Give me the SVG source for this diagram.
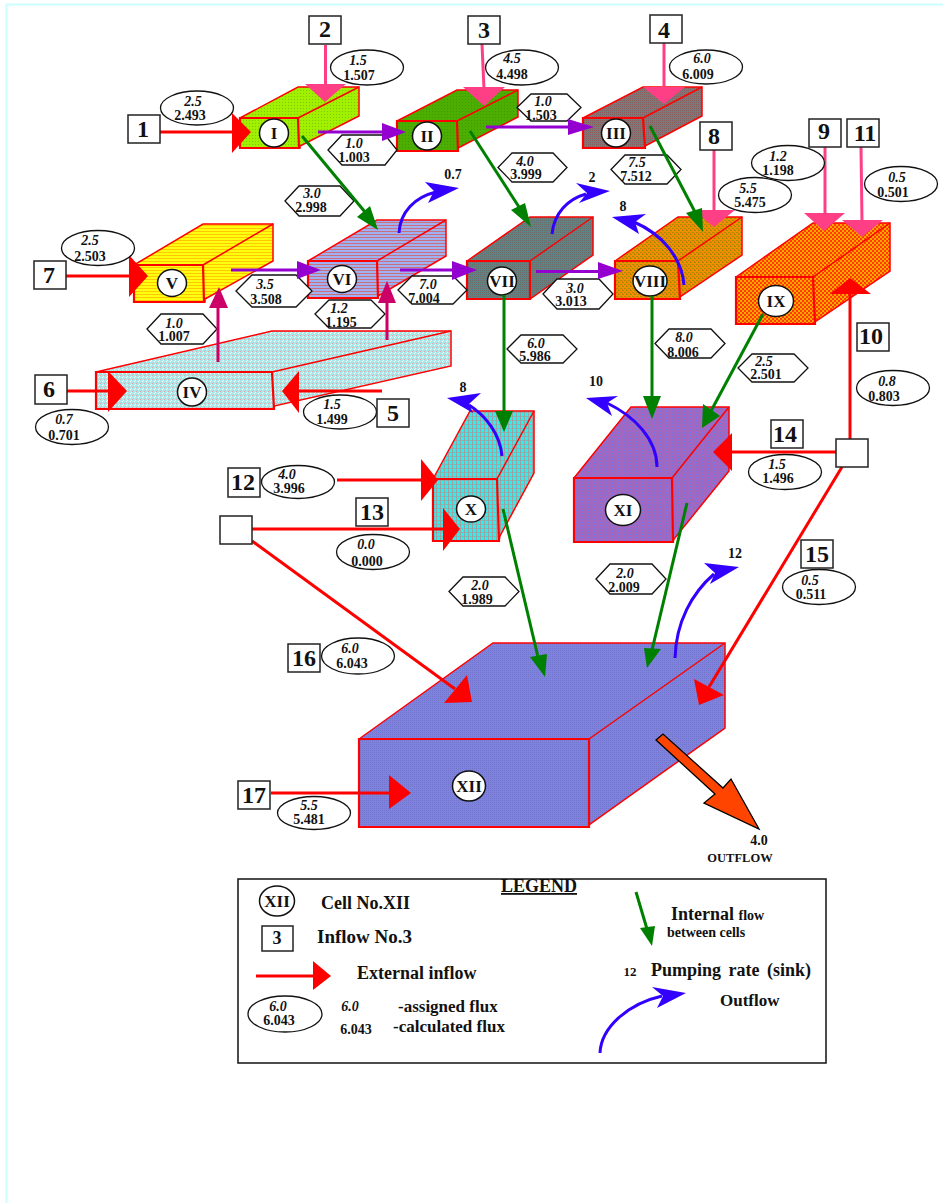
<svg xmlns="http://www.w3.org/2000/svg" width="943" height="1203" viewBox="0 0 943 1203">
<style>
text{font-family:"Liberation Serif","Times New Roman",serif;font-weight:bold;fill:#111;text-anchor:middle}
.it{font-style:italic;font-size:14px}
.v{font-size:14px}
.sq text{font-size:24px}
.sq rect{fill:#fff;stroke:#222;stroke-width:1.5}
.c{fill:#fff;stroke:#111;stroke-width:1.5}
.cl{font-size:17px}
.b{stroke:#f00;stroke-width:1.5;stroke-linejoin:miter}
.f{stroke:#f00;stroke-width:2.2}
.lab ellipse,.lab polygon{fill:#fff;stroke:#111;stroke-width:1.3}
.ln{fill:none;stroke-width:3}
.red .ln,.red line{stroke:#f00;fill:none;stroke-width:3}
.red polygon{fill:#f00}
.pink line{stroke:#ff3f85;stroke-width:3}
.pink polygon{fill:#ff3f85}
.pur line{stroke:#9400d0;stroke-width:3}
.pur polygon{fill:#9400d0}
.grn line{stroke:#008000;stroke-width:3}
.grn polygon{fill:#008000}
.mag line{stroke:#cc0066;stroke-width:3}
.mag polygon{fill:#cc0066}
.blu path{stroke:#3300ff;stroke-width:3;fill:none}
.blu polygon{fill:#3300ff}
.lg{text-anchor:start}
</style>
<defs>
<pattern id="pI" width="3" height="3" patternUnits="userSpaceOnUse"><rect width="3" height="3" fill="#a0f000"/><rect width="1" height="1" fill="#80c800"/></pattern>
<pattern id="pII" width="3" height="3" patternUnits="userSpaceOnUse"><rect width="3" height="3" fill="#4cae00"/><rect width="1" height="1" fill="#3f9a00"/></pattern>
<pattern id="pIII" width="2" height="2" patternUnits="userSpaceOnUse"><rect width="2" height="2" fill="#7a7a7a"/><rect width="1" height="1" fill="#8c5c5c"/></pattern>
<pattern id="pV" width="3" height="3" patternUnits="userSpaceOnUse"><rect width="3" height="3" fill="#ffff10"/><rect width="3" height="1" fill="#ffc800"/></pattern>
<pattern id="pVI" width="3" height="3" patternUnits="userSpaceOnUse"><rect width="3" height="3" fill="#a0b0f0"/><rect width="3" height="1" fill="#c87080"/></pattern>
<pattern id="pVII" width="2" height="2" patternUnits="userSpaceOnUse"><rect width="2" height="2" fill="#5c8484"/><rect width="1" height="1" fill="#6f6c6c"/></pattern>
<pattern id="pVIII" width="4" height="4" patternUnits="userSpaceOnUse"><rect width="4" height="4" fill="#f09000"/><rect width="2" height="1" fill="#a09000"/><rect x="2" y="2" width="2" height="1" fill="#a09000"/><rect x="2" y="1" width="1" height="1" fill="#d87010"/></pattern>
<pattern id="pIX" width="4" height="4" patternUnits="userSpaceOnUse"><rect width="4" height="4" fill="#ff3a00"/><rect width="2" height="2" fill="#ffa800"/><rect x="2" y="2" width="2" height="2" fill="#ffa800"/></pattern>
<pattern id="pIV" width="4" height="4" patternUnits="userSpaceOnUse"><rect width="4" height="4" fill="#a8e8e8"/><rect x="0" y="3" width="1" height="1" fill="#e8a0a8"/><rect x="1" y="2" width="1" height="1" fill="#e8b8c0"/><rect x="2" y="1" width="1" height="1" fill="#ffffff"/><rect x="3" y="0" width="1" height="1" fill="#f0ffff"/></pattern>
<pattern id="pX" width="4" height="4" patternUnits="userSpaceOnUse"><rect width="4" height="4" fill="#30eeee"/><rect width="4" height="1" fill="#88b4b4"/><rect width="1" height="4" fill="#98a4a4"/></pattern>
<pattern id="pXI" width="3" height="3" patternUnits="userSpaceOnUse"><rect width="3" height="3" fill="#a068c0"/><rect width="1" height="1" fill="#6878e8"/></pattern>
<pattern id="pXII" width="2" height="2" patternUnits="userSpaceOnUse"><rect width="2" height="2" fill="#7c84e0"/><rect width="1" height="1" fill="#7474cc"/></pattern>
</defs>
<rect width="943" height="1203" fill="#fff"/>
<path d="M6.5 1203V4.5H943" fill="none" stroke="#ccffff" stroke-width="2"/>

<g id="cell-I"><polygon class="b" fill="url(#pI)" points="240,118 298,87 359,87 359,116 300,146 300,148 240,148"/><polyline class="b" fill="none" points="298,118 359,87"/><polygon class="f" fill="none" points="240,118 298,118 299,148 240,148"/><ellipse class="c" cx="274" cy="133" rx="14.5" ry="14"/><text class="cl" x="274" y="138.500">I</text></g>
<g id="cell-II"><polygon class="b" fill="url(#pII)" points="397,121 457,90 518,90 518,117 458,148 458,151 397,151"/><polyline class="b" fill="none" points="457,121 518,90"/><polygon class="f" fill="none" points="397,121 457,121 458,151 397,151"/><ellipse class="c" cx="427" cy="136" rx="14.500" ry="14"/><text class="cl" x="427" y="141.500">II</text></g>
<g id="cell-III"><polygon class="b" fill="url(#pIII)" points="583,118 643,87 702,87 702,116 645,146 645,148 583,148"/><polyline class="b" fill="none" points="643,118 702,87"/><polygon class="f" fill="none" points="583,118 643,118 645,148 583,148"/><ellipse class="c" cx="616" cy="133" rx="14.500" ry="14"/><text class="cl" x="616" y="138.500">III</text></g>
<g id="cell-IV"><polygon class="b" fill="url(#pIV)" points="96,372 272,331 451,331 451,366 274,406 274,409 96,409"/><polyline class="b" fill="none" points="272,372 451,331"/><polygon class="f" fill="none" points="96,372 272,372 274,409 96,409"/><ellipse class="c" cx="192" cy="392" rx="14.500" ry="14"/><text class="cl" x="192" y="397.500">IV</text></g>
<g id="cell-V"><polygon class="b" fill="url(#pV)" points="134,265 203,224 273,224 273,261 205,299 205,302 134,302"/><polyline class="b" fill="none" points="203,265 273,224"/><polygon class="f" fill="none" points="134,265 203,265 204,302 134,302"/><ellipse class="c" cx="172" cy="283" rx="14.500" ry="13.500"/><text class="cl" x="172" y="288.500">V</text></g>
<g id="cell-VI"><polygon class="b" fill="url(#pVI)" points="308,261 377,220 446,220 446,256 378,296 378,298 308,298"/><polyline class="b" fill="none" points="377,261 446,220"/><polygon class="f" fill="none" points="308,261 377,261 378,298 308,298"/><ellipse class="c" cx="342" cy="279" rx="14.500" ry="13.500"/><text class="cl" x="342" y="284.500">VI</text></g>
<g id="cell-VII"><polygon class="b" fill="url(#pVII)" points="467,261 530,217 593,217 593,255 530,299 467,299"/><polyline class="b" fill="none" points="530,261 593,217"/><polygon class="f" fill="none" points="467,261 530,261 530,299 467,299"/><ellipse class="c" cx="502" cy="281" rx="14.500" ry="14"/><text class="cl" x="502" y="286.500">VII</text></g>
<g id="cell-VIII"><polygon class="b" fill="url(#pVIII)" points="615,261 678,217 742,217 742,255 680,297 680,299 615,299"/><polyline class="b" fill="none" points="678,261 742,217"/><polygon class="f" fill="none" points="615,261 678,261 680,299 615,299"/><ellipse class="c" cx="650" cy="281" rx="17" ry="15"/><text class="cl" x="650" y="286.500">VIII</text></g>
<g id="cell-IX"><polygon class="b" fill="url(#pIX)" points="736,277 813,223 890,223 890,271 815,322 815,324 736,324"/><polyline class="b" fill="none" points="813,277 890,223"/><polygon class="f" fill="none" points="736,277 813,277 815,324 736,324"/><ellipse class="c" cx="776" cy="301" rx="17.500" ry="15.500"/><text class="cl" x="776" y="306.500">IX</text></g>
<g id="cell-X"><polygon class="b" fill="url(#pX)" points="433,479 470,411 534,411 534,473 500,536 499,541 433,541"/><polyline class="b" fill="none" points="497,479 534,411"/><polygon class="f" fill="none" points="433,479 497,479 499,541 433,541"/><ellipse class="c" cx="471" cy="509" rx="14.500" ry="13"/><text class="cl" x="471" y="514.500">X</text></g>
<g id="cell-XI"><polygon class="b" fill="url(#pXI)" points="574,478 631,407 729,407 729,471 674,539 673,542 574,542"/><polyline class="b" fill="none" points="672,478 729,407"/><polygon class="f" fill="none" points="574,478 672,478 673,542 574,542"/><ellipse class="c" cx="623" cy="510" rx="17.500" ry="15.500"/><text class="cl" x="623" y="515.500">XI</text></g>
<g id="cell-XII"><polygon class="b" fill="url(#pXII)" points="359,739 493,643 725,643 725,728 589,825 589,827 359,827"/><polyline class="b" fill="none" points="589,739 725,643"/><polygon class="f" fill="none" points="359,739 589,739 589,827 359,827"/><ellipse class="c" cx="469" cy="786" rx="16.500" ry="15"/><text class="cl" x="469" y="791.500">XII</text></g>

<g id="flux-hexagons" class="lab">
<g><polygon points="328,150 342,135 385,135 397,150 385,165 342,165"/><text class="it" x="354" y="148">1.0</text><text class="v" x="354" y="162">1.003</text></g>
<g><polygon points="285,201 299,186 340,186 354,201 340,216 299,216"/><text class="it" x="312" y="198">3.0</text><text class="v" x="311" y="212">2.998</text></g>
<g><polygon points="517,107.500 531,94 567,94 581,107.500 567,121 531,121"/><text class="it" x="543" y="106">1.0</text><text class="v" x="541" y="120">1.503</text></g>
<g><polygon points="498,167.500 512,153 553,153 567,167.500 553,182 512,182"/><text class="it" x="525" y="166">4.0</text><text class="v" x="526" y="179">3.999</text></g>
<g><polygon points="611,169.500 625,155 667,155 681,169.500 667,184 625,184"/><text class="it" x="637" y="167">7.5</text><text class="v" x="636" y="181">7.512</text></g>
<g><polygon points="543,294 557,279 599,279 613,294 599,309 557,309"/><text class="it" x="575" y="293">3.0</text><text class="v" x="571" y="306">3.013</text></g>
<g><polygon points="236,291 252,275 296,275 312,291 296,307 252,307"/><text class="it" x="265" y="289">3.5</text><text class="v" x="266" y="304">3.508</text></g>
<g><polygon points="398,290 412,276 453,276 467,290 453,304 412,304"/><text class="it" x="428" y="289">7.0</text><text class="v" x="424" y="303">7.004</text></g>
<g><polygon points="315,314 329,300 371,300 385,314 371,328 329,328"/><text class="it" x="339" y="313">1.2</text><text class="v" x="341" y="327">1.195</text></g>
<g><polygon points="147,329 161,314 203,314 217,329 203,344 161,344"/><text class="it" x="174" y="328">1.0</text><text class="v" x="174" y="341">1.007</text></g>
<g><polygon points="507,349 521,335 563,335 577,349 563,363 521,363"/><text class="it" x="536" y="348">6.0</text><text class="v" x="535" y="361">5.986</text></g>
<g><polygon points="655,343.500 669,329 711,329 725,343.500 711,358 669,358"/><text class="it" x="684" y="342">8.0</text><text class="v" x="683" y="357">8.006</text></g>
<g><polygon points="738,368 752,354 794,354 808,368 794,382 752,382"/><text class="it" x="764" y="366">2.5</text><text class="v" x="766" y="379">2.501</text></g>
<g><polygon points="449,591.500 463,577 505,577 519,591.500 505,606 463,606"/><text class="it" x="480" y="590">2.0</text><text class="v" x="477" y="604">1.989</text></g>
<g><polygon points="596,579 610,564 652,564 666,579 652,594 610,594"/><text class="it" x="625" y="578">2.0</text><text class="v" x="624" y="592">2.009</text></g>
</g>

<g id="connectors">
<g class="red">
<line x1="158" y1="132" x2="234" y2="132"/><polygon points="232,113 251,132 232,153"/>
<line x1="850" y1="439" x2="850" y2="294"/><polygon points="830,294 850,278 871,294"/>
<line x1="66" y1="276" x2="131" y2="276"/><polygon points="129,255 148,276 129,297"/>
<line x1="67" y1="391" x2="110" y2="391"/><polygon points="108,371 127,391 108,412"/>
<line x1="382" y1="391" x2="298" y2="391"/><polygon points="299,371 282,391 299,413"/>
<line x1="337" y1="480" x2="423" y2="480"/><polygon points="421,459 438,480 421,501"/>
<line x1="252" y1="529" x2="445" y2="529"/><polygon points="443,508 460,529 443,551"/>
<line x1="836" y1="452" x2="730" y2="452"/><polygon points="732,433 713,452 732,471"/>
<line x1="842" y1="467" x2="709" y2="687"/><polygon points="694,679 724,695 699,705"/>
<line x1="252" y1="541" x2="455" y2="689"/><polygon points="467,675 472,702 444,703"/>
<line x1="271" y1="793" x2="392" y2="793"/><polygon points="389,775 411,793 389,809"/>
</g>
<g class="pink">
<line x1="325.500" y1="45" x2="325.500" y2="86"/><polygon points="305,84 346,84 325,102"/>
<line x1="482" y1="44" x2="484" y2="89"/><polygon points="463,87 505,87 484,106"/>
<line x1="664" y1="43" x2="664" y2="89"/><polygon points="643,87 685,87 664,104"/>
<line x1="714" y1="150" x2="714" y2="212"/><polygon points="693,210 735,210 714,227"/>
<line x1="825" y1="147" x2="825" y2="215"/><polygon points="804,213 845,213 824,231"/>
<line x1="861" y1="147" x2="862" y2="222"/><polygon points="842,220 883,220 862,237"/>
</g>
<g class="pur">
<line x1="318" y1="132" x2="384" y2="132"/><polygon points="382,123 406,132 382,141"/>
<line x1="486" y1="127" x2="570" y2="127"/><polygon points="568,119 594,127 568,135"/>
<line x1="231" y1="270" x2="299" y2="270"/><polygon points="297,261 321,270 297,279"/>
<line x1="400" y1="270" x2="454" y2="270"/><polygon points="452,261 477,270 452,280"/>
<line x1="536" y1="271.500" x2="600" y2="271.500"/><polygon points="598,262 623,271 598,279"/>
</g>
<g class="grn">
<line x1="302" y1="136" x2="365" y2="212"/><polygon points="370,206 378,230 357,217"/>
<line x1="470" y1="131" x2="519" y2="207"/><polygon points="525,203 531,227 511,210"/>
<line x1="650" y1="126" x2="695" y2="212"/><polygon points="702,208 703,232 686,213"/>
<line x1="504" y1="295" x2="504" y2="413"/><polygon points="495,411 513,411 504,432"/>
<line x1="652" y1="296" x2="652" y2="398"/><polygon points="643,396 661,396 652,419"/>
<line x1="763" y1="314" x2="711" y2="411"/><polygon points="703,404 720,416 702,428"/>
<line x1="503" y1="509" x2="538" y2="657"/><polygon points="530,657 547,654 545,677"/>
<line x1="687" y1="503" x2="652" y2="650"/><polygon points="644,648 661,649 647,668"/>
</g>
<g class="mag">
<line x1="218" y1="362" x2="218" y2="306"/><polygon points="209,308 228,308 219,287"/>
<line x1="387" y1="340" x2="387" y2="301"/><polygon points="378,303 396,303 387,281"/>
</g>
<g class="blu">
<path d="M399 233C400 212 415 197 436 192"/><polygon points="425,182 459,188 428,203 434,191"/>
<path d="M552 234C554 213 568 199 586 194"/><polygon points="576,183 610,191 579,203 587,193"/>
<path d="M684 285C682 258 662 234 634 222"/><polygon points="612,217 646,214 635,222 639,234"/>
<path d="M502 456C500 434 486 416 469 405"/><polygon points="447,398 481,393 469,404 473,413"/>
<path d="M657 467C657 439 634 416 607 403"/><polygon points="586,398 618,396 607,403 612,416"/>
<path d="M675 658C676 622 692 593 714 574"/><polygon points="739,567 704,563 715,573 710,584"/>
<path d="M600 1053C601 1028 627 1004 662 996"/><polygon points="686,993 652,987 663,996 657,1008"/>
</g>
<polygon points="656,740 663,734 723,788 731,779 759,829 704,803 715,794" fill="#ff4400" stroke="#000" stroke-width="1.3"/>
</g>

<g id="flux-ellipses" class="lab">
<g><ellipse cx="197" cy="108" rx="36.500" ry="17"/><text class="it" x="193" y="106">2.5</text><text class="v" x="190" y="120">2.493</text></g>
<g><ellipse cx="367" cy="67.500" rx="36.500" ry="17.500"/><text class="it" x="358" y="65">1.5</text><text class="v" x="359" y="80">1.507</text></g>
<g><ellipse cx="522" cy="67.500" rx="36.500" ry="17.500"/><text class="it" x="512" y="63">4.5</text><text class="v" x="512" y="79">4.498</text></g>
<g><ellipse cx="706" cy="67" rx="36.500" ry="17"/><text class="it" x="702" y="63">6.0</text><text class="v" x="698" y="79">6.009</text></g>
<g><ellipse cx="788" cy="163" rx="36.500" ry="17.500"/><text class="it" x="778" y="161">1.2</text><text class="v" x="778" y="175">1.198</text></g>
<g><ellipse cx="755" cy="195" rx="36.500" ry="17.500"/><text class="it" x="748" y="193">5.5</text><text class="v" x="750" y="207">5.475</text></g>
<g><ellipse cx="901" cy="184" rx="36.500" ry="17.500"/><text class="it" x="897" y="182">0.5</text><text class="v" x="893" y="197">0.501</text></g>
<g><ellipse cx="893" cy="388" rx="36.500" ry="17.500"/><text class="it" x="887" y="386">0.8</text><text class="v" x="884" y="401">0.803</text></g>
<g><ellipse cx="785" cy="472" rx="36.500" ry="17.500"/><text class="it" x="777" y="469">1.5</text><text class="v" x="778" y="483">1.496</text></g>
<g><ellipse cx="819" cy="587" rx="36.500" ry="17.500"/><text class="it" x="810" y="585">0.5</text><text class="v" x="811" y="599">0.511</text></g>
<g><ellipse cx="98" cy="248" rx="36.500" ry="17.500"/><text class="it" x="90" y="245">2.5</text><text class="v" x="90" y="261">2.503</text></g>
<g><ellipse cx="72" cy="427" rx="36.500" ry="17.500"/><text class="it" x="64" y="424">0.7</text><text class="v" x="64" y="440">0.701</text></g>
<g><ellipse cx="340" cy="412" rx="36.500" ry="17"/><text class="it" x="332" y="409">1.5</text><text class="v" x="332" y="424">1.499</text></g>
<g><ellipse cx="298" cy="482" rx="36.500" ry="16.500"/><text class="it" x="287" y="479">4.0</text><text class="v" x="289" y="493">3.996</text></g>
<g><ellipse cx="373" cy="552" rx="36.500" ry="17.500"/><text class="it" x="366" y="549">0.0</text><text class="v" x="367" y="566">0.000</text></g>
<g><ellipse cx="358" cy="656" rx="36.500" ry="18"/><text class="it" x="350" y="653">6.0</text><text class="v" x="352" y="668">6.043</text></g>
<g><ellipse cx="314" cy="813" rx="36.500" ry="16.500"/><text class="it" x="309" y="810">5.5</text><text class="v" x="309" y="824">5.481</text></g>
</g>

<g id="inflow-labels" class="sq">
<g id="inflow-1"><rect x="128" y="115" width="32" height="28"/><text x="143" y="137">1</text></g>
<g id="inflow-2"><rect x="309" y="16" width="32" height="28"/><text x="325" y="37">2</text></g>
<g id="inflow-3"><rect x="468" y="16" width="32" height="28"/><text x="484" y="38">3</text></g>
<g id="inflow-4"><rect x="650" y="15" width="32" height="28"/><text x="664" y="38">4</text></g>
<g id="inflow-5"><rect x="377" y="399" width="32" height="28"/><text x="393" y="421">5</text></g>
<g id="inflow-6"><rect x="35" y="375" width="32" height="29"/><text x="49" y="397">6</text></g>
<g id="inflow-7"><rect x="34" y="261" width="32" height="28"/><text x="49" y="283">7</text></g>
<g id="inflow-8"><rect x="700" y="122" width="32" height="28"/><text x="714" y="144">8</text></g>
<g id="inflow-9"><rect x="809" y="119" width="32" height="28"/><text x="824" y="139">9</text></g>
<g id="inflow-10"><rect x="857" y="323" width="32" height="28"/><text x="871" y="344">10</text></g>
<g id="inflow-11"><rect x="847" y="119" width="32" height="28"/><text x="865" y="141">11</text></g>
<g id="inflow-12"><rect x="228" y="468" width="32" height="29"/><text x="243" y="490">12</text></g>
<g id="inflow-13"><rect x="356" y="498" width="32" height="28"/><text x="372" y="520">13</text></g>
<g id="inflow-14"><rect x="771" y="420" width="32" height="28"/><text x="785" y="442">14</text></g>
<g id="inflow-15"><rect x="801" y="540" width="32" height="28"/><text x="817" y="562">15</text></g>
<g id="inflow-16"><rect x="288" y="644" width="32" height="28"/><text x="304" y="666">16</text></g>
<g id="inflow-17"><rect x="238" y="781" width="32" height="28"/><text x="254" y="803">17</text></g>
<g id="source-left"><rect x="220" y="516" width="32" height="28"/></g>
<g id="source-right"><rect x="836" y="439" width="32" height="28"/></g>
</g>

<g id="pumping-labels">
<text class="v" x="453" y="179">0.7</text>
<text class="v" x="592" y="182">2</text>
<text class="v" x="623" y="211">8</text>
<text class="v" x="463" y="392">8</text>
<text class="v" x="596" y="386">10</text>
<text class="v" x="735" y="558">12</text>
<text class="v" x="759" y="845">4.0</text>
<text x="740" y="862" font-size="12.500">OUTFLOW</text>
</g>

<g id="legend">
<rect x="238" y="879" width="588" height="184" fill="none" stroke="#111" stroke-width="1.5"/>
<text x="539" y="892" font-size="18" text-decoration="underline">LEGEND</text>
<ellipse class="c" cx="277" cy="901" rx="17.500" ry="15"/><text x="277" y="907" font-size="17">XII</text>
<text class="lg" x="321" y="909" font-size="18">Cell No.XII</text>
<rect x="262" y="926" width="31" height="25" fill="#fff" stroke="#222" stroke-width="1.5"/><text x="277" y="944" font-size="18">3</text>
<text class="lg" x="317" y="943" font-size="19">Inflow No.3</text>
<g class="red"><line x1="256" y1="976" x2="315" y2="976"/><polygon points="313,961 331,976 313,990"/></g>
<text class="lg" x="357" y="979" font-size="18">External inflow</text>
<g class="lab"><ellipse cx="285" cy="1014" rx="37" ry="18"/></g>
<text class="it" x="278" y="1011">6.0</text><text class="v" x="279" y="1025">6.043</text>
<text class="it" x="350" y="1011">6.0</text><text class="v" x="356" y="1034">6.043</text>
<text class="lg" x="398" y="1012" font-size="17">-assigned flux</text>
<text class="lg" x="393" y="1032" font-size="17">-calculated flux</text>
<g class="grn"><line x1="636" y1="892" x2="647" y2="929"/><polygon points="640,928 655,926 652,946"/></g>
<text class="lg" x="671" y="920" font-size="18">Internal <tspan font-size="14">flow</tspan></text>
<text class="lg" x="667" y="937" font-size="14">between cells</text>
<text x="630" y="976" font-size="13">12</text>
<text class="lg" x="651" y="976" font-size="18" word-spacing="3">Pumping rate (sink)</text>
<text class="lg" x="720" y="1006" font-size="17">Outflow</text>
</g>
</svg>
